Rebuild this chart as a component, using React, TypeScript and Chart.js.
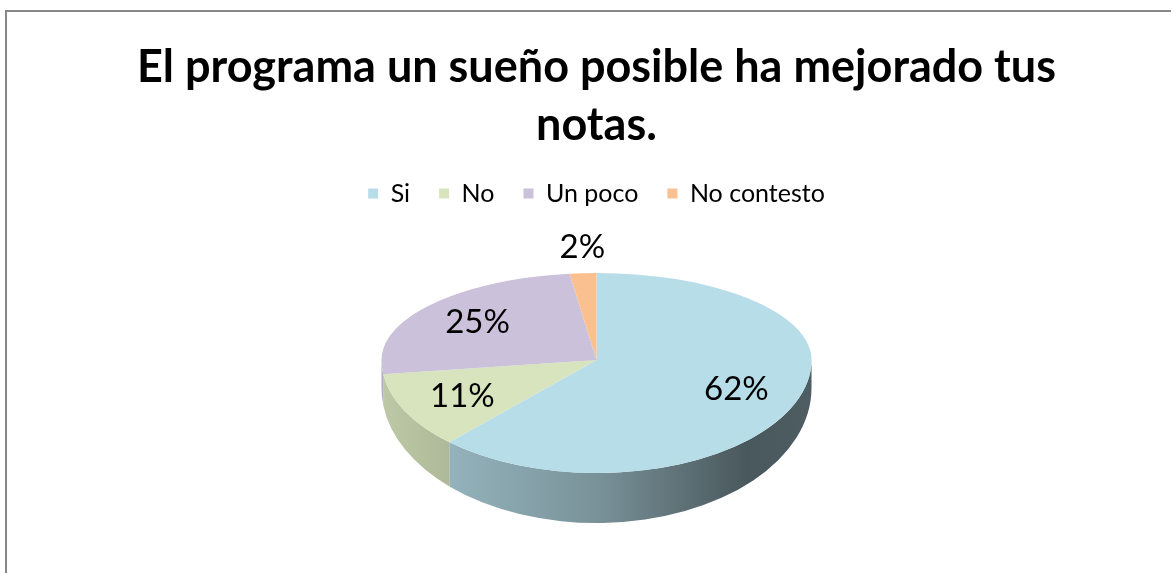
import React, { useEffect, useRef } from "react";
import { Chart, registerables } from "chart.js";

Chart.register(...registerables);

const TITLE_LINES = ["El programa un sueño posible ha mejorado tus", "notas."];
const CATEGORIES = ["Si", "No", "Un poco", "No contesto"];
const VALUES = [62, 11, 25, 2];
const COLORS = ["#b7dde8", "#d7e4bd", "#ccc1da", "#fac090"];

// perspective look: back half flatter than the front half
const TILT_BACK = 87 / 215;
const TILT_FRONT = 113 / 215;
const SIDE_DROP = 28; // side offset at the left/right extremes
const SIDE_FRONT = 50; // side thickness at the front
const FONT = "Lato, 'Open Sans', sans-serif";

function shade(hex: string, f: number): string {
  const n = parseInt(hex.slice(1), 16);
  const r = Math.round(((n >> 16) & 255) * f);
  const g = Math.round(((n >> 8) & 255) * f);
  const b = Math.round((n & 255) * f);
  return `rgb(${r},${g},${b})`;
}

function scaleAbout(ctx: CanvasRenderingContext2D, cy: number, k: number) {
  ctx.translate(0, cy);
  ctx.scale(1, k);
  ctx.translate(0, -cy);
}

const pie3d = {
  id: "pie3d",
  beforeDatasetsDraw(chart: any) {
    const ctx = chart.ctx as CanvasRenderingContext2D;
    const arcs = chart.getDatasetMeta(0).data;
    if (!arcs.length) return;
    const { x: cx, y: cy, outerRadius: r } = arcs[0].getProps(["x", "y", "outerRadius"], true);
    const ryF = r * TILT_FRONT;
    const ryB2 = ryF + SIDE_FRONT - SIDE_DROP;
    arcs.forEach((arc: any, i: number) => {
      const { startAngle, endAngle } = arc.getProps(["startAngle", "endAngle"], true);
      const a = Math.max(startAngle, 0);
      const b = Math.min(endAngle, Math.PI);
      if (b <= a) return;
      const grad = ctx.createLinearGradient(cx - r, 0, cx + r, 0);
      grad.addColorStop(0, shade(COLORS[i], 0.88));
      grad.addColorStop(0.5, shade(COLORS[i], 0.66));
      grad.addColorStop(0.85, shade(COLORS[i], 0.4));
      grad.addColorStop(1, shade(COLORS[i], 0.42));
      ctx.beginPath();
      ctx.ellipse(cx, cy, r, ryF, 0, a, b);
      ctx.ellipse(cx, cy + SIDE_DROP, r, ryB2, 0, b, a, true);
      ctx.closePath();
      ctx.fillStyle = grad;
      ctx.fill();
    });
    // back half of the top face (drawn by Chart.js right after this hook)
    ctx.save();
    ctx.beginPath();
    ctx.rect(0, 0, chart.width, cy + 0.5);
    ctx.clip();
    scaleAbout(ctx, cy, TILT_BACK);
  },
  afterDatasetsDraw(chart: any) {
    const ctx = chart.ctx as CanvasRenderingContext2D;
    ctx.restore();
    const meta = chart.getDatasetMeta(0);
    const arcs = meta.data;
    if (!arcs.length) return;
    const { y: cy0 } = arcs[0].getProps(["x", "y"], true);
    // front half of the top face
    ctx.save();
    ctx.beginPath();
    ctx.rect(0, cy0 - 0.5, chart.width, chart.height - cy0 + 0.5);
    ctx.clip();
    scaleAbout(ctx, cy0, TILT_FRONT);
    meta.controller.draw();
    ctx.restore();

    const total = VALUES.reduce((s, v) => s + v, 0);
    ctx.save();
    ctx.fillStyle = "#000";
    ctx.font = `33px ${FONT}`;
    ctx.textAlign = "center";
    ctx.textBaseline = "middle";
    arcs.forEach((arc: any, i: number) => {
      const { x: cx, y: cy, outerRadius: r, startAngle, endAngle } = arc.getProps(
        ["x", "y", "outerRadius", "startAngle", "endAngle"],
        true
      );
      const mid = (startAngle + endAngle) / 2;
      const pct = Math.round((VALUES[i] / total) * 100);
      const rr = pct < 5 ? r * 1.3 : r * 0.7;
      const s = Math.sin(mid);
      const k = s > 0 ? TILT_FRONT : TILT_BACK;
      const x = cx + Math.cos(mid) * (pct < 5 ? r * 1.05 : rr);
      const y = cy + s * rr * k;
      ctx.fillText(`${pct}%`, x, y);
    });
    ctx.restore();
  },
};

export default function App() {
  const canvasRef = useRef<HTMLCanvasElement | null>(null);

  useEffect(() => {
    if (!canvasRef.current) return;
    const chart = new Chart(canvasRef.current, {
      type: "pie",
      data: {
        labels: CATEGORIES,
        datasets: [
          {
            data: VALUES,
            backgroundColor: COLORS,
            borderWidth: 0,
            radius: 215,
            clip: false as any,
          } as any,
        ],
      },
      options: {
        animation: false,
        responsive: true,
        maintainAspectRatio: false,
        events: [],
        layout: { padding: { bottom: 69, left: 22 } },
        plugins: {
          title: {
            display: true,
            text: TITLE_LINES,
            color: "#000",
            font: { family: FONT, size: 45, weight: "bold", lineHeight: 58 / 45 },
            padding: { top: 38, bottom: -2 },
          },
          legend: {
            position: "top",
            labels: {
              color: "#000",
              font: { family: FONT, size: 25 },
              boxWidth: 10,
              boxHeight: 10,
              padding: 29,
            },
          },
          tooltip: { enabled: false },
        },
      },
      plugins: [pie3d],
    });
    return () => chart.destroy();
  }, []);

  return (
    <div style={{ position: "fixed", left: 0, top: 0, width: 1171, height: 573, overflow: "hidden", background: "#fff" }}>
      <div style={{ position: "absolute", left: 0, top: 0, width: 1171, height: 573 }}>
        <canvas ref={canvasRef} />
      </div>
      <div
        style={{
          position: "absolute",
          left: 5,
          top: 10,
          width: 1200,
          height: 600,
          border: "2px solid #878787",
          pointerEvents: "none",
        }}
      />
    </div>
  );
}
